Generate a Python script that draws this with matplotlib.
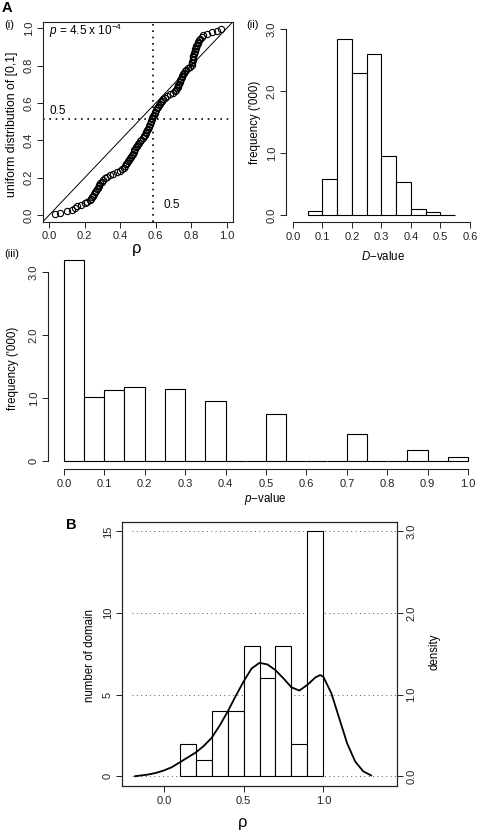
import matplotlib.pyplot as plt
import numpy as np

plt.rcParams['font.family'] = ['Liberation Sans', 'DejaVu Sans']
plt.rcParams['mathtext.fontset'] = 'custom'
plt.rcParams['mathtext.rm'] = 'Liberation Sans'
plt.rcParams['mathtext.it'] = 'Liberation Sans:italic'

# ---- data ----
# (i) sorted rho values against uniform quantiles
rho_sorted = [
    0.031, 0.062, 0.102, 0.128, 0.145, 0.157, 0.180, 0.200, 0.214, 0.229,
    0.235, 0.241, 0.247, 0.253, 0.259, 0.265, 0.270, 0.274, 0.278, 0.282,
    0.287, 0.296, 0.305, 0.314, 0.328, 0.342, 0.360, 0.382, 0.399, 0.411,
    0.421, 0.428, 0.435, 0.441, 0.446, 0.451, 0.456, 0.461, 0.465, 0.470,
    0.475, 0.480, 0.485, 0.490, 0.495, 0.500, 0.506, 0.513, 0.519, 0.526,
    0.533, 0.539, 0.544, 0.548, 0.552, 0.556, 0.560, 0.564, 0.568, 0.571,
    0.575, 0.578, 0.582, 0.585, 0.589, 0.594, 0.599, 0.603, 0.608, 0.613,
    0.618, 0.623, 0.629, 0.636, 0.643, 0.650, 0.662, 0.679, 0.696, 0.711,
    0.715, 0.720, 0.724, 0.728, 0.732, 0.736, 0.739, 0.743, 0.746, 0.750,
    0.755, 0.759, 0.764, 0.770, 0.782, 0.793, 0.804, 0.806, 0.807, 0.809,
    0.810, 0.812, 0.813, 0.816, 0.818, 0.821, 0.824, 0.827, 0.830, 0.833,
    0.836, 0.839, 0.842, 0.850, 0.859, 0.867, 0.888, 0.920, 0.946, 0.966,
]
rho_median = 0.584
u_median = 0.513

# (ii) D-value histogram, frequency ('000)
d_breaks = [0.05, 0.10, 0.15, 0.20, 0.25, 0.30, 0.35, 0.40, 0.45, 0.50, 0.55]
d_freq = [0.06, 0.58, 2.84, 2.30, 2.60, 0.96, 0.53, 0.10, 0.04, 0.005]

# (iii) p-value histogram, frequency ('000)
p_breaks = [0.00, 0.05, 0.10, 0.15, 0.20, 0.25, 0.30, 0.35, 0.40, 0.45, 0.50,
            0.55, 0.60, 0.65, 0.70, 0.75, 0.80, 0.85, 0.90, 0.95, 1.00]
p_freq = [3.19, 1.01, 1.12, 1.18, 0.0, 1.15, 0.0, 0.95, 0.0, 0.0,
          0.75, 0.0, 0.0, 0.0, 0.43, 0.0, 0.0, 0.17, 0.0, 0.06]

# (B) histogram of rho per domain plus density curve
b_breaks = [0.1, 0.2, 0.3, 0.4, 0.5, 0.6, 0.7, 0.8, 0.9, 1.0]
b_counts = [2, 1, 4, 4, 8, 6, 8, 2, 15]
dens_x = [-0.18, -0.10, -0.05, 0.00, 0.05, 0.10, 0.15, 0.20, 0.25, 0.30,
          0.35, 0.40, 0.45, 0.50, 0.55, 0.60, 0.65, 0.70, 0.75, 0.80,
          0.85, 0.90, 0.95, 0.98, 1.00, 1.05, 1.10, 1.15, 1.20, 1.25, 1.30]
dens_y = [0.00, 0.02, 0.04, 0.07, 0.11, 0.17, 0.23, 0.29, 0.37, 0.47,
          0.62, 0.79, 0.98, 1.16, 1.32, 1.39, 1.37, 1.30, 1.20, 1.09,
          1.05, 1.12, 1.21, 1.24, 1.22, 1.02, 0.71, 0.40, 0.18, 0.06, 0.01]

W, H = 481, 830
fig = plt.figure(figsize=(W / 100, H / 100), dpi=100)
TS = 8
LS = 8.3
EC = '#222222'


def add_box(l, t, r, b):
    return fig.add_axes([l / W, 1 - b / H, (r - l) / W, (b - t) / H])


def ftext(x, y, s, **kw):
    fig.text(x / W, 1 - y / H, s, **kw)


def style(ax, xt, xl, yt, yl, right=False):
    ax.set_xticks(xt)
    ax.set_xticklabels(xl)
    ax.set_yticks(yt)
    ax.set_yticklabels(yl)
    ax.tick_params(direction='out', length=4, width=0.7, color=EC,
                   labelsize=TS, labelcolor='#222222')
    ax.tick_params(axis='x', pad=3)
    ax.tick_params(axis='y', pad=2.5)
    for lab in ax.get_yticklabels():
        lab.set_rotation(90)
        lab.set_va('center')
        lab.set_ha('left' if right else 'right')
    for s in ax.spines.values():
        s.set_linewidth(0.8)
        s.set_color(EC)


def hist(ax, breaks, vals):
    lefts = np.array(breaks[:-1])
    widths = np.diff(breaks)
    ax.bar(lefts, vals, width=widths, align='edge', facecolor='white',
           edgecolor='black', linewidth=0.8, zorder=2)


# ---- (i) ----
ax1 = add_box(42.7, 21.7, 233, 221.7)
n = len(rho_sorted)
u = (np.arange(n) + 0.5) / n
ax1.plot(rho_sorted, u, 'o', mfc='none', mec='black', ms=4.5, mew=0.8)
ax1.axline((0, 0), slope=1, color='black', lw=0.7)
ax1.axvline(rho_median, color='black', lw=1.2, dashes=(1, 2.8))
ax1.axhline(u_median, color='black', lw=1.2, dashes=(1, 2.8))
ax1.set_xlim(-0.037, 1.036)
ax1.set_ylim(-0.036, 1.036)
t1 = [0, 0.2, 0.4, 0.6, 0.8, 1.0]
style(ax1, t1, ['%.1f' % v for v in t1], t1, ['%.1f' % v for v in t1])
ax1.text(0.0, 0.985, r'$p$ = 4.5 x 10$^{-4}$', fontsize=8.5, va='center')
ax1.text(0.05, 0.56, '0.5', fontsize=8.5, va='center', ha='center')
ax1.text(0.69, 0.054, '0.5', fontsize=8.5, va='center', ha='center')

# ---- (ii) ----
ax2 = add_box(285.7, 21.9, 477, 222.4)
hist(ax2, d_breaks, d_freq)
ax2.set_xlim(-0.024, 0.624)
ax2.set_ylim(-0.12, 3.12)
ax2.spines['top'].set_visible(False)
ax2.spines['right'].set_visible(False)
ax2.spines['left'].set_bounds(0, 3)
ax2.spines['bottom'].set_bounds(0, 0.6)
t2 = [0, 0.1, 0.2, 0.3, 0.4, 0.5, 0.6]
style(ax2, t2, ['%.1f' % v for v in t2], [0, 1, 2, 3],
      ['0.0', '1.0', '2.0', '3.0'])

# ---- (iii) ----
ax3 = add_box(47.7, 251.3, 484.2, 469.1)
hist(ax3, p_breaks, p_freq)
ax3.set_xlim(-0.04, 1.04)
ax3.set_ylim(-0.128, 3.328)
ax3.spines['top'].set_visible(False)
ax3.spines['right'].set_visible(False)
ax3.spines['left'].set_bounds(0, 3)
ax3.spines['bottom'].set_bounds(0, 1)
t3 = [0, 0.1, 0.2, 0.3, 0.4, 0.5, 0.6, 0.7, 0.8, 0.9, 1.0]
style(ax3, t3, ['%.1f' % v for v in t3], [0, 1, 2, 3],
      ['0', '1.0', '2.0', '3.0'])

# ---- (B) ----
axb = add_box(121.7, 521.7, 397.3, 786)
axb.hlines([0, 5, 10, 15], -0.2, 1.464, colors='#555555', lw=0.7,
           linestyles=(0, (1, 3.5)), zorder=1)
hist(axb, b_breaks, b_counts)
axb.set_xlim(-0.264, 1.464)
axb.set_ylim(-0.6, 15.6)
style(axb, [0, 0.5, 1.0], ['0.0', '0.5', '1.0'], [0, 5, 10, 15],
      ['0', '5', '10', '15'])
axd = axb.twinx()
axd.plot(dens_x, dens_y, color='black', lw=1.3)
axd.set_ylim(-0.12, 3.12)
style(axd, [0, 0.5, 1.0], ['0.0', '0.5', '1.0'], [0, 1, 2, 3],
      ['0.0', '1.0', '2.0', '3.0'], right=True)

# ---- labels ----
ftext(2, 8, 'A', fontsize=10.5, fontweight='bold', va='center')
ftext(66, 525, 'B', fontsize=10.5, fontweight='bold', va='center')
ftext(9, 25, '(i)', fontsize=8, ha='center', va='center')
ftext(253, 25, '(ii)', fontsize=8, ha='center', va='center')
ftext(12, 254, '(iii)', fontsize=8, ha='center', va='center')
ftext(12, 124, 'uniform distribution of [0,1]', fontsize=8.8, rotation=90,
      ha='center', va='center')
ftext(137, 248, 'ρ', fontsize=12, ha='center', va='center')
ftext(255, 122, "frequency ('000)", fontsize=LS, rotation=90,
      ha='center', va='center')
ftext(383, 256, r'$D$$-$value', fontsize=LS, ha='center', va='center')
ftext(13, 368, "frequency ('000)", fontsize=LS, rotation=90,
      ha='center', va='center')
ftext(265, 499, r'$p$$-$value', fontsize=LS, ha='center', va='center')
ftext(90, 655, 'number of domain', fontsize=LS, rotation=90,
      ha='center', va='center')
ftext(435, 652, 'density', fontsize=LS, rotation=90, ha='center',
      va='center')
ftext(243, 822, 'ρ', fontsize=12, ha='center', va='center')

fig.savefig('out.png', dpi=100)
